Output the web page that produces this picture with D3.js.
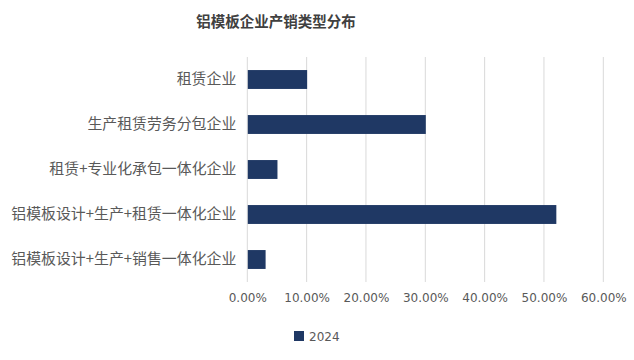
<!DOCTYPE html>
<html><head><meta charset="utf-8">
<script src="https://cdn.jsdelivr.net/npm/d3@7"></script>
<style>body{margin:0;background:#fff}svg{display:block}</style>
</head><body>
<svg id="c" width="634" height="360"></svg>
<script>
const title = "铝模板企业产销类型分布";
const categories = ["租赁企业","生产租赁劳务分包企业","租赁+专业化承包一体化企业","铝模板设计+生产+租赁一体化企业","铝模板设计+生产+销售一体化企业"];
const values2024 = [0.10, 0.30, 0.05, 0.52, 0.03];
const tickValues = [0, 0.1, 0.2, 0.3, 0.4, 0.5, 0.6];
const seriesName = "2024";

const svg = d3.select("#c");
const W = 634, H = 360;
const m = {left: 247.3, right: 634-603.3, top: 57, bottom: 360-282};
const x = d3.scaleLinear().domain([0, 0.6]).range([m.left, W - m.right]);
const y = d3.scaleBand().domain(categories).range([m.top, H - m.bottom]).paddingInner(0.58).paddingOuter(0.29);
const cjk = "'Noto Sans CJK SC', 'Microsoft YaHei', sans-serif";

svg.append("text").attr("x", 276).attr("y", 27).attr("text-anchor","middle")
  .attr("font-family", cjk).attr("font-size", 14.5).attr("font-weight","bold").attr("fill","#404040").text(title);

// gridlines
svg.append("g").selectAll("line").data(tickValues).join("line")
  .attr("x1", d=>x(d)).attr("x2", d=>x(d)).attr("y1", m.top).attr("y2", H - m.bottom)
  .attr("stroke","#d9d9d9").attr("stroke-width",1);

// x axis tick labels
const xAxis = d3.axisBottom(x).tickValues(tickValues).tickFormat(d=>(d*100).toFixed(2)+"%").tickSize(0).tickPadding(0);
const gx = svg.append("g").attr("transform", `translate(0,${H - m.bottom + 20})`).call(xAxis);
gx.select(".domain").remove();
gx.selectAll("text").attr("font-family","'DejaVu Sans', sans-serif").attr("font-size",12).attr("fill","#595959").attr("dy","0");

// y axis labels
const yAxis = d3.axisLeft(y).tickSize(0).tickPadding(11);
const gy = svg.append("g").attr("transform", `translate(${m.left},0)`).call(yAxis);
gy.select(".domain").remove();
gy.selectAll("text").attr("font-family", cjk).attr("font-size",14.9).attr("fill","#595959");

// bars
svg.append("g").selectAll("rect").data(values2024).join("rect")
  .attr("x", x(0)+0.5).attr("y", (d,i)=>y(categories[i]))
  .attr("width", d=>x(d)-x(0)).attr("height", y.bandwidth())
  .attr("fill","#1f3864");

// legend
const lg = svg.append("g").attr("transform","translate(294,331)");
lg.append("rect").attr("width",10).attr("height",10).attr("fill","#1f3864");
lg.append("text").attr("x",15).attr("y",9.5).attr("font-family","'DejaVu Sans', sans-serif").attr("font-size",12).attr("fill","#595959").text(seriesName);
</script>
</body></html>
